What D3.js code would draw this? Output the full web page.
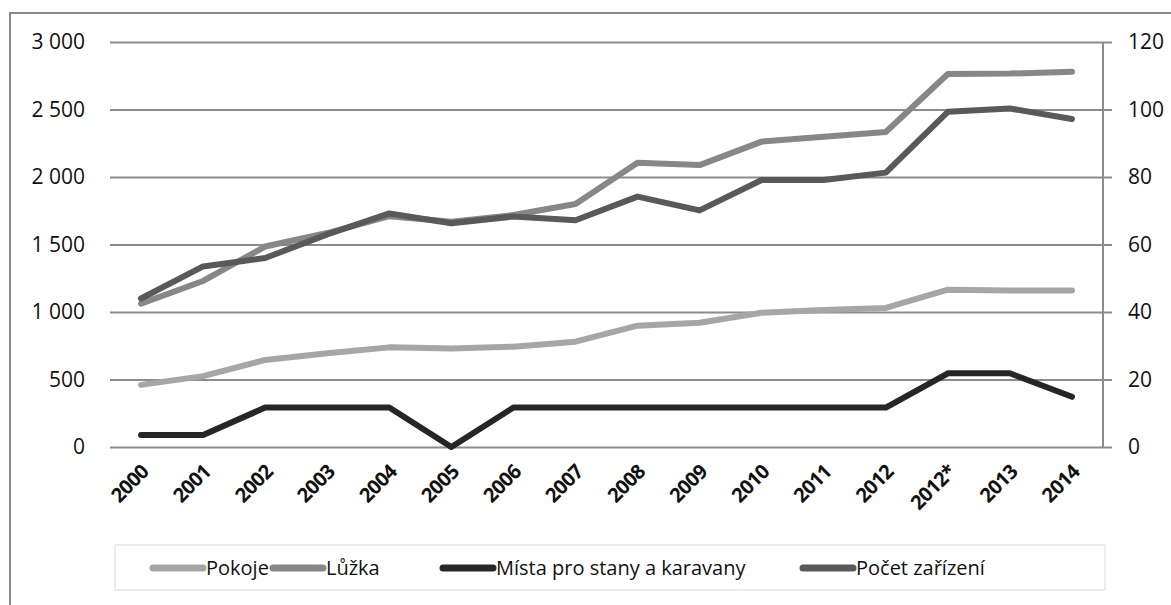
<!DOCTYPE html>
<html>
<head>
<meta charset="utf-8">
<script src="https://cdn.jsdelivr.net/npm/d3@7"></script>
<style>
  body { margin: 0; background: #fff; }
</style>
</head>
<body>
<div id="chart"></div>
<script>
// Categories and series.
const years = ["2000", "2001", "2002", "2003", "2004", "2005", "2006", "2007",
  "2008", "2009", "2010", "2011", "2012", "2012*", "2013", "2014"];
const pokoje = [460, 525, 645, 695, 738, 730, 743, 780, 899, 920, 995, 1015, 1030, 1165, 1160, 1160];
const luzka = [1062, 1230, 1485, 1585, 1710, 1668, 1718, 1800, 2105, 2088, 2262, 2298, 2333, 2763, 2766, 2780];
const mista = [89, 89, 292, 292, 292, 0, 292, 292, 292, 292, 292, 292, 292, 546, 546, 372];
const pocet = [44, 53.5, 56, 63, 69.2, 66.3, 68.3, 67.2, 74.2, 70.1, 79.1, 79.1, 81.3, 99.3, 100.3, 97.2];
const leftTicks = [0, 500, 1000, 1500, 2000, 2500, 3000];
const rightTicks = [0, 20, 40, 60, 80, 100, 120];

const series = [
  {name: "Pokoje", values: pokoje, axis: "left", color: "#a6a6a6"},
  {name: "Lůžka", values: luzka, axis: "left", color: "#878787"},
  {name: "Místa pro stany a karavany", values: mista, axis: "left", color: "#262626"},
  {name: "Počet zařízení", values: pocet, axis: "right", color: "#595959"}
];

const W = 1171, H = 605;
const plot = {left: 110, right: 1103, top: 42, bottom: 447};

const svg = d3.select("#chart")
  .append("svg")
    .attr("width", W)
    .attr("height", H);

// Outer frame.
svg.append("rect")
    .attr("x", 10)
    .attr("y", 13)
    .attr("width", W + 20)
    .attr("height", H + 20)
    .attr("fill", "none")
    .attr("stroke", "#8a8a8a")
    .attr("stroke-width", 2);

const x = d3.scalePoint()
  .domain(years)
  .range([plot.left, plot.right])
  .padding(0.5);

const yL = d3.scaleLinear()
  .domain([0, 3000])
  .range([plot.bottom, plot.top]);

const yR = d3.scaleLinear()
  .domain([0, 120])
  .range([plot.bottom, plot.top]);

const fmt = d => d3.format(",")(d).replace(/,/g, " ");

// Gridlines + left labels.
svg.append("g")
    .attr("transform", "translate(" + plot.left + ",0)")
    .call(d3.axisLeft(yL)
      .tickValues(leftTicks)
      .tickSize(-(plot.right - plot.left))
      .tickPadding(25)
      .tickFormat(fmt))
    .call(g => g.select(".domain").remove())
    .call(g => g.selectAll(".tick line")
      .attr("stroke", "#8c8c8c")
      .attr("stroke-width", 2))
    .call(g => g.selectAll(".tick text")
      .style("font-family", "'Open Sans', sans-serif")
      .style("font-size", "21px")
      .attr("fill", "#111"));

// Right axis.
svg.append("g")
    .attr("transform", "translate(" + plot.right + ",0)")
    .call(d3.axisRight(yR)
      .tickValues(rightTicks)
      .tickSize(9)
      .tickPadding(16))
    .call(g => g.select(".domain")
      .attr("stroke", "#8c8c8c")
      .attr("stroke-width", 2)
      .attr("d", "M0," + plot.top + "V" + plot.bottom))
    .call(g => g.selectAll(".tick line")
      .attr("stroke", "#8c8c8c")
      .attr("stroke-width", 2))
    .call(g => g.selectAll(".tick text")
      .style("font-family", "'Open Sans', sans-serif")
      .style("font-size", "21px")
      .attr("fill", "#111"));

// Category labels, rotated.
svg.append("g")
  .selectAll("text")
  .data(years)
  .join("text")
    .attr("transform", d => "translate(" + (x(d) + 9) + "," + (plot.bottom + 26) + ") rotate(-45)")
    .attr("text-anchor", "end")
    .style("font-family", "'Open Sans', sans-serif")
    .style("font-size", "20px")
    .style("font-weight", "700")
    .style("letter-spacing", "-0.6px")
    .attr("fill", "#111")
    .text(d => d);

// Lines.
series.forEach(s => {
  const y = s.axis === "left" ? yL : yR;
  svg.append("path")
      .datum(s.values)
      .attr("d", d3.line()
        .x((d, i) => x(years[i]))
        .y(d => y(d)))
      .attr("fill", "none")
      .attr("stroke", s.color)
      .attr("stroke-width", 6)
      .attr("stroke-linejoin", "round")
      .attr("stroke-linecap", "round");
});

// Legend.
const legend = svg.append("g");
legend.append("rect")
    .attr("x", 115)
    .attr("y", 545)
    .attr("width", 990)
    .attr("height", 45)
    .attr("fill", "#fff")
    .attr("stroke", "#d9d9d9")
    .attr("stroke-width", 1);

const legendX = [150, 270, 440, 800];
series.forEach((s, i) => {
  const g = legend.append("g")
      .attr("transform", "translate(" + legendX[i] + ",568)");
  g.append("line")
      .attr("x1", 3).attr("x2", 53)
      .attr("stroke", s.color)
      .attr("stroke-width", 7)
      .attr("stroke-linecap", "round");
  g.append("text")
      .attr("x", 56)
      .attr("dy", "0.36em")
      .style("font-family", "'Liberation Sans Narrow', 'Open Sans', sans-serif")
      .style("font-size", "20px")
      .attr("fill", "#111")
      .text(s.name);
});
</script>
</body>
</html>
